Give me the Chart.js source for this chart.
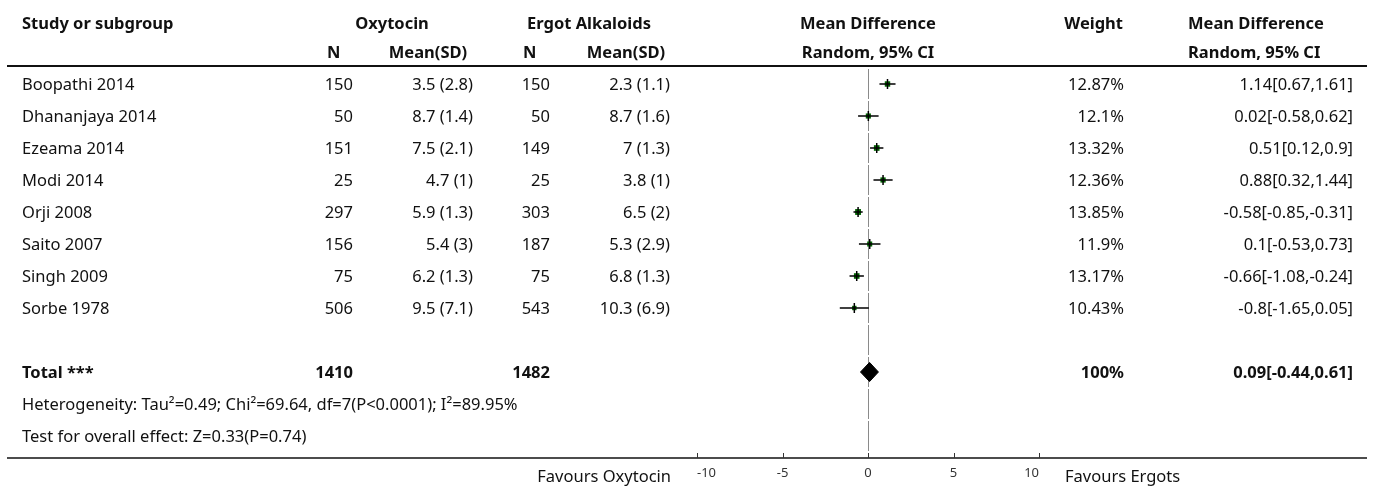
<!DOCTYPE html>
<html>
<head>
<meta charset="utf-8">
<script src="https://cdn.jsdelivr.net/npm/chart.js@4.4.0/dist/chart.umd.min.js"></script>
<style>
  body { margin: 0; background: #fff; }
  canvas { display: block; }
</style>
</head>
<body>
<canvas id="forest" width="1375" height="487"></canvas>
<script>
// study rows
const studies = ['Boopathi 2014', 'Dhananjaya 2014', 'Ezeama 2014', 'Modi 2014', 'Orji 2008', 'Saito 2007', 'Singh 2009', 'Sorbe 1978'];
const oxyN = [150, 50, 151, 25, 297, 156, 75, 506];
const oxyMean = [3.5, 8.7, 7.5, 4.7, 5.9, 5.4, 6.2, 9.5];
const oxySd = [2.8, 1.4, 2.1, 1, 1.3, 3, 1.3, 7.1];
const ergN = [150, 50, 149, 25, 303, 187, 75, 543];
const ergMean = [2.3, 8.7, 7, 3.8, 6.5, 5.3, 6.8, 10.3];
const ergSd = [1.1, 1.6, 1.3, 1, 2, 2.9, 1.3, 6.9];
const weights = [12.87, 12.1, 13.32, 12.36, 13.85, 11.9, 13.17, 10.43];
const md = [1.14, 0.02, 0.51, 0.88, -0.58, 0.1, -0.66, -0.8];
const mdLow = [0.67, -0.58, 0.12, 0.32, -0.85, -0.53, -1.08, -1.65];
const mdHigh = [1.61, 0.62, 0.9, 1.44, -0.31, 0.73, -0.24, 0.05];

// pooled result
const totalOxyN = 1410;
const totalErgN = 1482;
const pooled = [0.09, -0.44, 0.61]; // estimate, low, high
const heterogeneity = 'Heterogeneity: Tau\u00b2=0.49; Chi\u00b2=69.64, df=7(P<0.0001); I\u00b2=89.95%';
const overallTest = 'Test for overall effect: Z=0.33(P=0.74)';

const xTicks = [-10, -5, 0, 5, 10];

const FAMILY = '"Noto Sans", "Open Sans", sans-serif';
const TOTAL_ROW = 9;

const ciSets = studies.map((s, i) => ({
    type: 'scatter',
    showLine: true,
    data: [{x: mdLow[i], y: i}, {x: mdHigh[i], y: i}],
    borderColor: '#000',
    borderWidth: 1.5,
    pointRadius: 0,
    order: 1
}));

function txt(ctx, s, x, y, align, bold) {
    ctx.font = (bold ? 'bold ' : '') + '16.5px ' + FAMILY;
    ctx.textAlign = align;
    ctx.textBaseline = 'middle';
    ctx.fillStyle = '#111';
    ctx.fillText(s, x, y);
}

// table columns, rules and favour labels around the plot
const tablePlugin = {
    id: 'table',
    afterDraw(chart) {
        const ctx = chart.ctx;
        const y = chart.scales.y;
        const x = chart.scales.x;
        const ca = chart.chartArea;
        ctx.save();

        // header
        const h1 = y.getPixelForValue(-1.9) + 1;
        const h2 = y.getPixelForValue(-0.95);
        txt(ctx, 'Study or subgroup', 22, h1, 'left', true);
        txt(ctx, 'Oxytocin', 392, h1, 'center', true);
        txt(ctx, 'Ergot Alkaloids', 589, h1, 'center', true);
        txt(ctx, 'Mean Difference', 868, h1, 'center', true);
        txt(ctx, 'Weight', 1123, h1, 'right', true);
        txt(ctx, 'Mean Difference', 1188, h1, 'left', true);
        txt(ctx, 'N', 327, h2, 'left', true);
        txt(ctx, 'Mean(SD)', 428, h2, 'center', true);
        txt(ctx, 'N', 523, h2, 'left', true);
        txt(ctx, 'Mean(SD)', 626, h2, 'center', true);
        txt(ctx, 'Random, 95% CI', 868, h2, 'center', true);
        txt(ctx, 'Random, 95% CI', 1188, h2, 'left', true);

        // study rows
        studies.forEach((s, i) => {
            const py = y.getPixelForValue(i) + 1;
            txt(ctx, s, 22, py, 'left');
            txt(ctx, String(oxyN[i]), 353, py, 'right');
            txt(ctx, oxyMean[i] + ' (' + oxySd[i] + ')', 473, py, 'right');
            txt(ctx, String(ergN[i]), 550, py, 'right');
            txt(ctx, ergMean[i] + ' (' + ergSd[i] + ')', 670, py, 'right');
            txt(ctx, weights[i] + '%', 1124, py, 'right');
            txt(ctx, md[i] + '[' + mdLow[i] + ',' + mdHigh[i] + ']', 1353, py, 'right');
        });

        // total
        const ty = y.getPixelForValue(TOTAL_ROW) + 1;
        txt(ctx, 'Total ***', 22, ty, 'left', true);
        txt(ctx, String(totalOxyN), 353, ty, 'right', true);
        txt(ctx, String(totalErgN), 550, ty, 'right', true);
        txt(ctx, '100%', 1124, ty, 'right', true);
        txt(ctx, pooled[0] + '[' + pooled[1] + ',' + pooled[2] + ']', 1353, ty, 'right', true);
        txt(ctx, heterogeneity, 22, y.getPixelForValue(10) + 1, 'left');
        txt(ctx, overallTest, 22, y.getPixelForValue(11) + 1, 'left');

        // rules
        ctx.strokeStyle = '#111';
        ctx.lineWidth = 1.8;
        ctx.beginPath();
        ctx.moveTo(7, ca.top + 1);
        ctx.lineTo(1367, ca.top + 1);
        ctx.stroke();
        ctx.lineWidth = 1.5;
        ctx.beginPath();
        ctx.moveTo(7, ca.bottom);
        ctx.lineTo(1367, ca.bottom);
        ctx.stroke();

        // small upward tick marks on the axis
        ctx.strokeStyle = '#333';
        ctx.lineWidth = 1;
        x.ticks.forEach(t => {
            const px = Math.round(x.getPixelForValue(t.value)) + 0.5;
            ctx.beginPath();
            ctx.moveTo(px, ca.bottom);
            ctx.lineTo(px, ca.bottom - 5);
            ctx.stroke();
        });

        txt(ctx, 'Favours Oxytocin', 671, ca.bottom + 19, 'right');
        txt(ctx, 'Favours Ergots', 1065, ca.bottom + 19, 'left');
        ctx.restore();
    }
};

new Chart(document.getElementById('forest'), {
    type: 'scatter',
    data: {
        datasets: [
            ...ciSets,
            {
                // study estimates
                data: md.map((v, i) => ({x: v, y: i})),
                pointStyle: 'rect',
                pointRadius: weights.map(w => w * 0.3),
                backgroundColor: '#006400',
                borderWidth: 0,
                order: 2
            },
            {
                data: md.map((v, i) => ({x: v, y: i})),
                pointStyle: 'line',
                rotation: 90,
                pointRadius: 5,
                borderColor: '#000',
                borderWidth: 1.5,
                order: 0
            },
            {
                // pooled diamond
                showLine: true,
                data: [
                    {x: pooled[1], y: TOTAL_ROW},
                    {x: pooled[0], y: TOTAL_ROW - 0.3},
                    {x: pooled[2], y: TOTAL_ROW},
                    {x: pooled[0], y: TOTAL_ROW + 0.3},
                    {x: pooled[1], y: TOTAL_ROW}
                ],
                fill: 'shape',
                backgroundColor: '#000',
                borderColor: '#000',
                borderWidth: 1,
                pointRadius: 0,
                tension: 0,
                order: 0
            }
        ]
    },
    options: {
        responsive: false,
        animation: false,
        devicePixelRatio: 1,
        layout: { padding: { left: 697, right: 336, top: 65, bottom: 0 } },
        plugins: { legend: { display: false }, tooltip: { enabled: false } },
        scales: {
            x: {
                type: 'linear',
                min: -10,
                max: 10,
                afterBuildTicks: s => { s.ticks = xTicks.map(v => ({value: v})); },
                afterFit: s => { s.height = 29; },
                ticks: {
                    align: 'inner',
                    padding: 7,
                    color: '#333',
                    font: { family: FAMILY, size: 13 }
                },
                grid: {
                    drawTicks: false,
                    lineWidth: 1,
                    color: c => (c.tick && c.tick.value === 0) ? '#8a8a8a' : 'rgba(0,0,0,0)'
                },
                border: { display: false, dash: [30, 2], dashOffset: 28 }
            },
            y: {
                type: 'linear',
                display: false,
                reverse: true,
                min: -0.59375,
                max: 11.6875
            }
        }
    },
    plugins: [tablePlugin]
});
</script>
</body>
</html>
